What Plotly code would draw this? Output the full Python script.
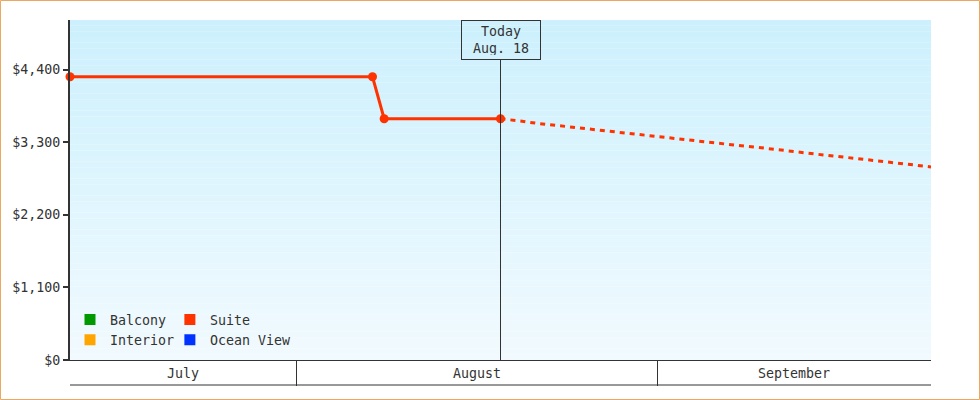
import pandas as pd
import plotly.graph_objects as go

# cabin price history for the Suite (the other cabins have no data yet)
suite_dates = ["2024-07-12 12:00", "2024-08-07 12:00", "2024-08-08 12:00", "2024-08-18 12:00"]
suite_prices = [4290, 4290, 3655, 3655]

# projected Suite price, one value per day starting today
forecast_start = "2024-08-18 12:00"
forecast_prices = [3655, 3637, 3613, 3588, 3568, 3550, 3534, 3515, 3497, 3473,
                   3450, 3429, 3412, 3394, 3377, 3358, 3333, 3314, 3291, 3274,
                   3258, 3239, 3223, 3201, 3179, 3159, 3136, 3113, 3101, 3083,
                   3063, 3040, 3016, 2997, 2980, 2960, 2946, 2925]

cabins = ["Balcony", "Interior", "Suite", "Ocean View"]
cabin_colors = {"Balcony": "#009900", "Suite": "#ff3300",
                "Interior": "#ffa500", "Ocean View": "#0033ff"}
legend_of = {"Balcony": "legend", "Interior": "legend",
             "Suite": "legend2", "Ocean View": "legend2"}

today = "2024-08-18 12:00"
today_label = "Today<br>Aug. 18"
month_starts = ["2024-07-01", "2024-08-01", "2024-09-01", "2024-10-01"]
month_names = ["July", "August", "September"]

y_ticks = [0, 1100, 2200, 3300, 4400]
y_max = 5150

W, H = 980, 400
ML, MR, MT, MB = 70, 49, 20, 40
PW, PH = W - ML - MR, H - MT - MB
FONT = "DejaVu Sans Mono, monospace"
FS = 13.3
INK = "#333333"

forecast_dates = pd.date_range(forecast_start, periods=len(forecast_prices), freq="D")
x_lo = pd.Timestamp(suite_dates[0])
x_hi = forecast_dates[-1]

fig = go.Figure()

# legend entries (two columns -> two legends)
for name in cabins:
    fig.add_trace(go.Scatter(
        x=[None], y=[None], mode="markers", name=name, legend=legend_of[name],
        marker=dict(symbol="square", size=11, color=cabin_colors[name]),
    ))

fig.add_trace(go.Scatter(
    x=pd.to_datetime(suite_dates), y=suite_prices, mode="lines+markers",
    line=dict(color=cabin_colors["Suite"], width=3),
    marker=dict(size=9, color=cabin_colors["Suite"]),
    showlegend=False, cliponaxis=False,
))
fig.add_trace(go.Scatter(
    x=forecast_dates, y=forecast_prices, mode="lines",
    line=dict(color=cabin_colors["Suite"], width=3, dash="5px,5px"),
    showlegend=False,
))

# background gradient: light blue at top fading to almost white
top, bot = (204, 240, 253), (241, 250, 254)
n = 60
shapes = []
for i in range(n):
    t = i / (n - 1)
    c = tuple(round(top[k] + (bot[k] - top[k]) * t) for k in range(3))
    shapes.append(dict(
        type="rect", xref="x domain", yref="y domain",
        x0=0, x1=1, y0=1 - (i + 1) / n, y1=1 - i / n,
        fillcolor="rgb(%d,%d,%d)" % c, line=dict(width=0), layer="below",
    ))

# today marker line, below the label box
box_h = 40
shapes.append(dict(
    type="line", xref="x", yref="y domain", x0=today, x1=today,
    y0=0, y1=1 - box_h / PH, line=dict(color=INK, width=1),
))
# bottom rule of the month band
shapes.append(dict(
    type="line", xref="x domain", yref="y domain", x0=0, x1=1,
    y0=-25 / PH, y1=-25 / PH, line=dict(color=INK, width=1),
))
# orange frame around the whole chart
shapes.append(dict(
    type="rect", xref="x domain", yref="y domain",
    x0=(0.5 - ML) / PW, x1=(W - 0.5 - ML) / PW,
    y0=-(MB - 0.5) / PH, y1=1 + (MT - 0.5) / PH,
    line=dict(color="#eaa860", width=1), layer="above",
))

annotations = [dict(
    x=today, y=1, xref="x", yref="y domain", yanchor="top",
    text=today_label, showarrow=False, align="center",
    font=dict(family=FONT, size=FS, color=INK),
    bordercolor=INK, borderwidth=1, borderpad=4, width=70, height=30,
)]
for i, name in enumerate(month_names):
    a = max(pd.Timestamp(month_starts[i]), x_lo)
    b = min(pd.Timestamp(month_starts[i + 1]), x_hi)
    annotations.append(dict(
        x=(a + (b - a) / 2).isoformat(), y=-13 / PH, xref="x", yref="y domain",
        text=name, showarrow=False, yanchor="middle",
        font=dict(family=FONT, size=FS, color=INK),
    ))

legend_style = dict(
    orientation="v", yanchor="bottom", y=0.014, xanchor="left",
    bgcolor="rgba(0,0,0,0)", tracegroupgap=0, itemclick=False,
    font=dict(family=FONT, size=FS, color=INK),
)

fig.update_layout(
    width=W, height=H,
    margin=dict(l=ML, r=MR, t=MT, b=MB),
    paper_bgcolor="white", plot_bgcolor="white",
    font=dict(family=FONT, size=FS, color=INK),
    shapes=shapes, annotations=annotations,
    legend=dict(legend_style, x=0.0),
    legend2=dict(legend_style, x=0.116),
    hovermode=False,
)
fig.update_xaxes(
    type="date", range=[x_lo.isoformat(), x_hi.isoformat()],
    showgrid=False, zeroline=False,
    showline=True, linecolor=INK, linewidth=1,
    tickvals=month_starts[1:3], ticks="outside", ticklen=25,
    tickcolor=INK, tickwidth=1, showticklabels=False,
)
fig.update_yaxes(
    range=[0, y_max], showgrid=False, zeroline=False,
    showline=True, linecolor=INK, linewidth=2,
    tickvals=y_ticks, ticktext=["${:,}".format(v) for v in y_ticks],
    ticks="outside", ticklen=5, tickwidth=2, tickcolor=INK,
)

fig.write_html("out.html", config={"displayModeBar": False},
               post_script="document.body.style.margin = '0';")
